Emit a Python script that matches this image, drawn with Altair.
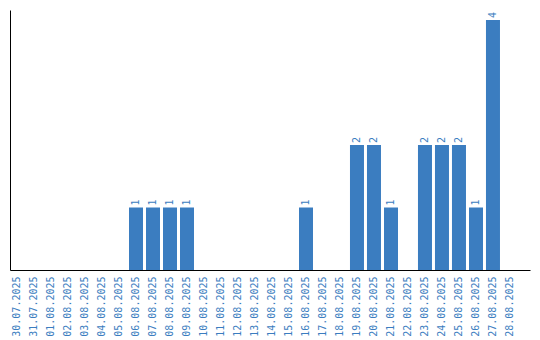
import altair as alt
import pandas as pd

dates = ["30.07.2025", "31.07.2025", "01.08.2025", "02.08.2025", "03.08.2025",
         "04.08.2025", "05.08.2025", "06.08.2025", "07.08.2025", "08.08.2025",
         "09.08.2025", "10.08.2025", "11.08.2025", "12.08.2025", "13.08.2025",
         "14.08.2025", "15.08.2025", "16.08.2025", "17.08.2025", "18.08.2025",
         "19.08.2025", "20.08.2025", "21.08.2025", "22.08.2025", "23.08.2025",
         "24.08.2025", "25.08.2025", "26.08.2025", "27.08.2025", "28.08.2025"]
counts = [0, 0, 0, 0, 0, 0, 0, 1, 1, 1,
          1, 0, 0, 0, 0, 0, 0, 1, 0, 0,
          2, 2, 1, 0, 2, 2, 2, 1, 4, 0]

df = pd.DataFrame({"date": dates, "count": counts})
df["label"] = df["count"].apply(lambda v: str(v) if v > 0 else "")

BLUE = "#3b7dc0"

x = alt.X("date:N", sort=dates,
          scale=alt.Scale(paddingInner=0.176, paddingOuter=0.383, align=0),
          axis=alt.Axis(title=None, labelAngle=270, ticks=False, labelPadding=6,
                        labelFont="DejaVu Sans Mono", labelFontSize=10,
                        labelColor=BLUE, domainColor="black", domainWidth=1,
                        labelOverlap=False, grid=False))
y = alt.Y("count:Q", scale=alt.Scale(domain=[0, 4.16], nice=False),
          axis=alt.Axis(title=None, labels=False, ticks=False, grid=False,
                        domainColor="black", domainWidth=1))

bars = alt.Chart(df).mark_bar(color=BLUE).encode(x=x, y=y)
text = alt.Chart(df).mark_text(angle=270, align="left", baseline="middle", dx=2,
                               font="DejaVu Sans Mono", fontSize=10, color=BLUE).encode(
    x=alt.X("date:N", sort=dates), y="count:Q", text="label:N")

chart = (bars + text).properties(
    width=520, height=260,
    autosize=alt.AutoSizeParams(type="none"),
    padding={"left": 10, "top": 10, "right": 10, "bottom": 70},
).configure_view(stroke=None)

chart.save("out.html", embed_options={"renderer": "svg", "actions": False})
